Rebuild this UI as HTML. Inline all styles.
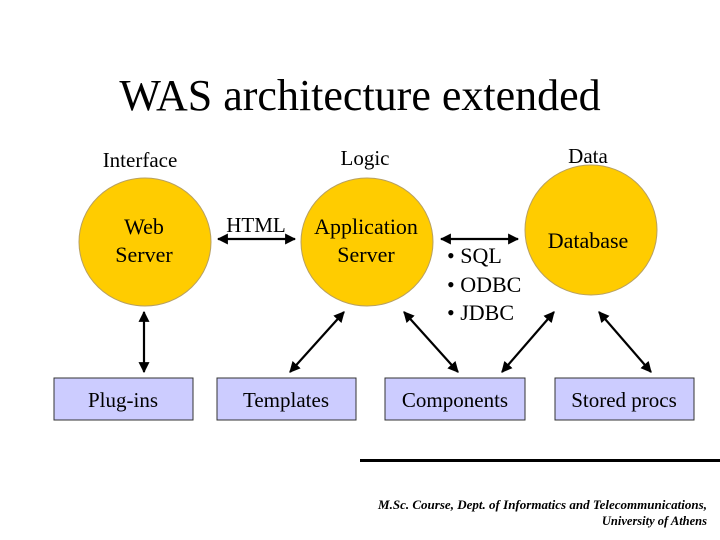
<!DOCTYPE html>
<html><head><style>
body{margin:0;background:#fff}
svg{display:block}
text{font-family:"Liberation Serif",serif;fill:#000}
</style></head><body>
<svg width="720" height="540" viewBox="0 0 720 540" xmlns="http://www.w3.org/2000/svg">
<defs>
<marker id="a" viewBox="0 0 10 10" refX="9" refY="5" markerWidth="5" markerHeight="5" orient="auto-start-reverse">
<path d="M0,0 L10,5 L0,10 z" fill="#000"/></marker>
</defs>
<text x="360" y="110" font-size="44" text-anchor="middle">WAS architecture extended</text>
<text x="140" y="167" font-size="21" text-anchor="middle">Interface</text>
<text x="365" y="165" font-size="21" text-anchor="middle">Logic</text>
<text x="588" y="163" font-size="21" text-anchor="middle">Data</text>
<g fill="#ffcc00" stroke="#b8a060" stroke-width="1">
<ellipse cx="145" cy="242" rx="66" ry="64"/>
<ellipse cx="367" cy="242" rx="66" ry="64"/>
<ellipse cx="591" cy="230" rx="66" ry="65"/>
</g>
<text x="144" y="234" font-size="22" text-anchor="middle">Web</text>
<text x="144" y="262" font-size="22" text-anchor="middle">Server</text>
<text x="366" y="234" font-size="22" text-anchor="middle">Application</text>
<text x="366" y="262" font-size="22" text-anchor="middle">Server</text>
<text x="588" y="248" font-size="22" text-anchor="middle">Database</text>
<text x="256" y="232" font-size="21" text-anchor="middle">HTML</text>
<text x="447" y="263" font-size="22">• SQL</text>
<text x="447" y="292" font-size="22">• ODBC</text>
<text x="447" y="320" font-size="22">• JDBC</text>
<g stroke="#000" stroke-width="2.2" marker-start="url(#a)" marker-end="url(#a)">
<line x1="218" y1="239" x2="295" y2="239"/>
<line x1="441" y1="239" x2="518" y2="239"/>
<line x1="144" y1="312" x2="144" y2="372"/>
<line x1="344" y1="312" x2="290" y2="372"/>
<line x1="404" y1="312" x2="458" y2="372"/>
<line x1="554" y1="312" x2="502" y2="372"/>
<line x1="599" y1="312" x2="651" y2="372"/>
</g>
<g fill="#ccccff" stroke="#333" stroke-width="1">
<rect x="54" y="378" width="139" height="42"/>
<rect x="217" y="378" width="139" height="42"/>
<rect x="385" y="378" width="140" height="42"/>
<rect x="555" y="378" width="139" height="42"/>
</g>
<g font-size="21" text-anchor="middle">
<text x="123" y="407">Plug-ins</text>
<text x="286" y="407">Templates</text>
<text x="455" y="407">Components</text>
<text x="624" y="407">Stored procs</text>
</g>
<rect x="360" y="459" width="360" height="3" fill="#000"/>
<g font-size="12.5" font-style="italic" font-weight="bold" text-anchor="end">
<text x="707" y="509" textLength="329" lengthAdjust="spacingAndGlyphs">M.Sc. Course, Dept. of Informatics and Telecommunications,</text>
<text x="707" y="525">University of Athens</text>
</g>
</svg>
</body></html>
